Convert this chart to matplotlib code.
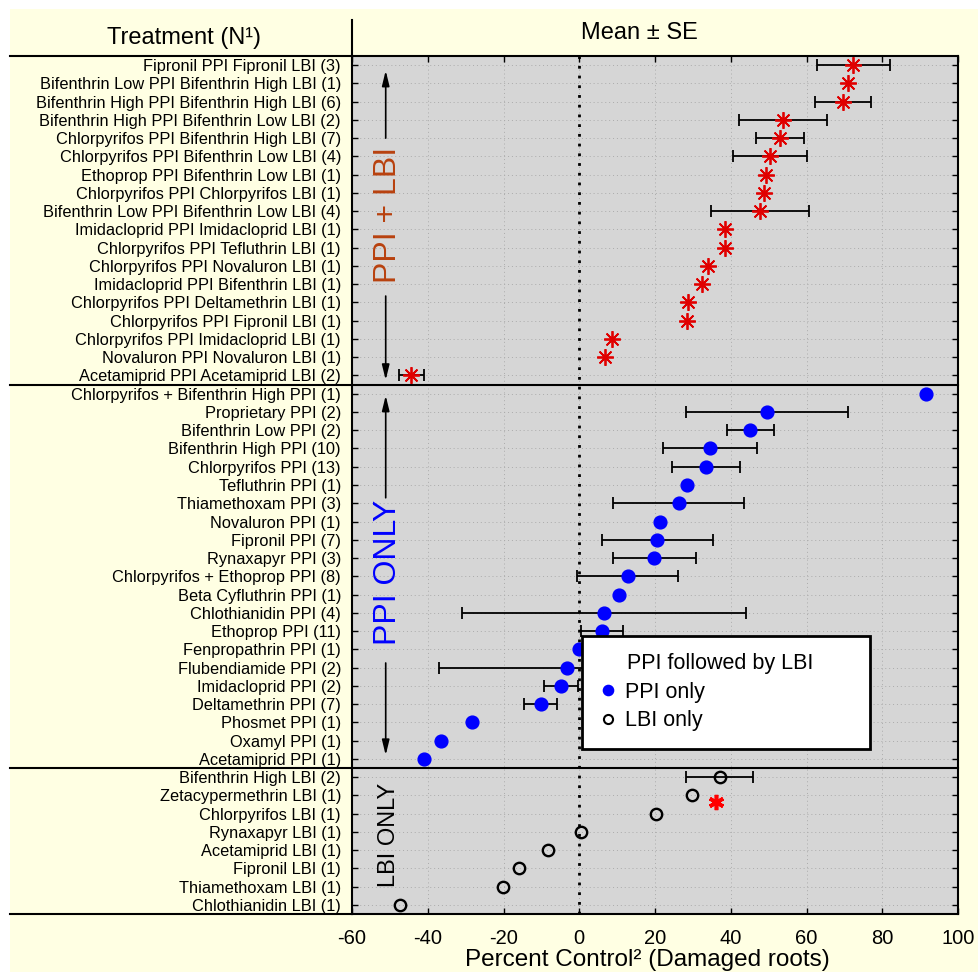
import matplotlib
matplotlib.use('Agg')
import matplotlib.pyplot as plt
import numpy as np
from matplotlib.lines import Line2D
from matplotlib.patches import Rectangle
import matplotlib.transforms as mtrans

plt.rcParams['font.family'] = ['Liberation Sans', 'DejaVu Sans']

# ---------------- data ----------------
ppi_lbi_labels = [
    "Fipronil PPI Fipronil LBI (3)",
    "Bifenthrin Low PPI Bifenthrin High LBI (1)",
    "Bifenthrin High PPI Bifenthrin High LBI (6)",
    "Bifenthrin High PPI Bifenthrin Low LBI (2)",
    "Chlorpyrifos PPI Bifenthrin High LBI (7)",
    "Chlorpyrifos PPI Bifenthrin Low LBI (4)",
    "Ethoprop PPI Bifenthrin Low LBI (1)",
    "Chlorpyrifos PPI Chlorpyrifos LBI (1)",
    "Bifenthrin Low PPI Bifenthrin Low LBI (4)",
    "Imidacloprid PPI Imidacloprid LBI (1)",
    "Chlorpyrifos PPI Tefluthrin LBI (1)",
    "Chlorpyrifos PPI Novaluron LBI (1)",
    "Imidacloprid PPI Bifenthrin LBI (1)",
    "Chlorpyrifos PPI Deltamethrin LBI (1)",
    "Chlorpyrifos PPI Fipronil LBI (1)",
    "Chlorpyrifos PPI Imidacloprid LBI (1)",
    "Novaluron PPI Novaluron LBI (1)",
    "Acetamiprid PPI Acetamiprid LBI (2)",
]
ppi_lbi_mean = [72.4, 70.9, 69.6, 53.8, 53.0, 50.4, 49.3, 48.8, 47.8, 38.4,
                38.4, 34.1, 32.3, 28.7, 28.4, 8.6, 6.8, -44.3]
ppi_lbi_se = [9.65, np.nan, 7.3, 11.5, 6.25, 9.85, np.nan, np.nan, 12.95, np.nan,
              np.nan, np.nan, np.nan, np.nan, np.nan, np.nan, np.nan, 3.35]

ppi_only_labels = [
    "Chlorpyrifos + Bifenthrin High PPI (1)",
    "Proprietary PPI (2)",
    "Bifenthrin Low PPI (2)",
    "Bifenthrin High PPI (10)",
    "Chlorpyrifos PPI (13)",
    "Tefluthrin PPI (1)",
    "Thiamethoxam PPI (3)",
    "Novaluron PPI (1)",
    "Fipronil PPI (7)",
    "Rynaxapyr PPI (3)",
    "Chlorpyrifos + Ethoprop PPI (8)",
    "Beta Cyfluthrin PPI (1)",
    "Chlothianidin PPI (4)",
    "Ethoprop PPI (11)",
    "Fenpropathrin PPI (1)",
    "Flubendiamide PPI (2)",
    "Imidacloprid PPI (2)",
    "Deltamethrin PPI (7)",
    "Phosmet PPI (1)",
    "Oxamyl PPI (1)",
    "Acetamiprid PPI (1)",
]
ppi_only_mean = [91.5, 49.5, 45.2, 34.55, 33.45, 28.4, 26.25, 21.3, 20.65, 19.85,
                 12.8, 10.4, 6.5, 6.0, -0.1, -3.3, -4.8, -10.2, -28.4, -36.6, -41.1]
ppi_only_se = [np.nan, 21.4, 6.1, 12.35, 9.05, np.nan, 17.25, np.nan, 14.75, 10.95,
               13.3, np.nan, 37.5, 5.6, np.nan, 33.8, 4.6, 4.3, np.nan, np.nan, np.nan]

lbi_only_labels = [
    "Bifenthrin High LBI (2)",
    "Zetacypermethrin LBI (1)",
    "Chlorpyrifos LBI (1)",
    "Rynaxapyr LBI (1)",
    "Acetamiprid LBI (1)",
    "Fipronil LBI (1)",
    "Thiamethoxam LBI (1)",
    "Chlothianidin LBI (1)",
]
lbi_only_mean = [37.05, 29.7, 20.2, 0.4, -8.3, -15.9, -20.1, -47.3]
lbi_only_se = [8.95, np.nan, np.nan, np.nan, np.nan, np.nan, np.nan, np.nan]

x_ticks = [-60, -40, -20, 0, 20, 40, 60, 80, 100]
signif_x = 36.2
signif_row = "Zetacypermethrin LBI (1)"

# ---------------- figure ----------------
W, H = 979, 974
fig = plt.figure(figsize=(W / 100, H / 100), dpi=100, facecolor='white')


def fx(px):
    return px / W


def fy(py):
    return 1 - py / H


fig.add_artist(Rectangle((fx(10), fy(972)), fx(979) - fx(10), fy(9) - fy(972),
                         transform=fig.transFigure, facecolor='#FFFFE3',
                         edgecolor='none', zorder=-10))

ax = fig.add_axes([fx(352), fy(914), (958 - 352) / W, (914 - 56) / H])
ax.set_facecolor('#D6D6D6')

all_labels = ppi_lbi_labels + ppi_only_labels + lbi_only_labels
n1, n2, n3 = len(ppi_lbi_labels), len(ppi_only_labels), len(lbi_only_labels)
y1 = np.arange(n1)
y2 = n1 + np.arange(n2)
y3 = n1 + n2 + np.arange(n3)

ax.set_axisbelow(True)
ax.grid(True, color='#ababab', linestyle=(0, (1, 3)), linewidth=0.7)
ax.axvline(0, color='black', linestyle=(0, (1, 2.5)), linewidth=2, zorder=2)


def draw_errors(mean, se, y):
    mean = np.asarray(mean, float)
    se = np.asarray(se, float)
    m = ~np.isnan(se)
    ax.errorbar(mean[m], y[m], xerr=se[m], fmt='none', ecolor='black',
                elinewidth=1.3, capsize=4, capthick=1.3, zorder=3)


draw_errors(ppi_lbi_mean, ppi_lbi_se, y1)
draw_errors(ppi_only_mean, ppi_only_se, y2)
draw_errors(lbi_only_mean, lbi_only_se, y3)

ax.plot(ppi_lbi_mean, y1, linestyle='none', marker=(8, 2, 0), markersize=12,
        markeredgewidth=1.3, color='#E00000', zorder=4)
ax.plot(ppi_only_mean, y2, linestyle='none', marker='o', markersize=9.2,
        color='#0000FF', zorder=4)
ax.plot(lbi_only_mean, y3, linestyle='none', marker='o', markersize=8.2,
        markerfacecolor='none', markeredgecolor='black', markeredgewidth=1.7, zorder=4)

# significance asterisk
sig_y = all_labels.index(signif_row) + 0.35
ax.plot([signif_x], [sig_y], linestyle='none', marker=(6, 2, 0), markersize=11,
        markeredgewidth=2.6, color='#FF0000', zorder=4)

ax.set_xlim(-60, 100)
ax.set_ylim(n1 + n2 + n3 - 0.5, -0.5)
ax.set_xticks(x_ticks)
ax.set_xticklabels([str(v) for v in x_ticks], fontsize=14.5)
ax.set_yticks(np.arange(n1 + n2 + n3))
ax.set_yticklabels(all_labels, fontsize=11.8)
ax.tick_params(axis='both', direction='in', top=True, right=True, length=4,
               width=1, color='black')
ax.tick_params(axis='y', pad=8)
ax.tick_params(axis='x', pad=11)
for s in ax.spines.values():
    s.set_linewidth(1.5)

ax.set_xlabel('Percent Control² (Damaged roots)', fontsize=17.5)
ax.xaxis.set_label_coords(0.488, -(966 - 914) / 858)
ax.xaxis.label.set_va('baseline')

# section labels + arrows
sec_x = -50.5
arr_x = -51.1
ax.text(sec_x, 8.2, 'PPI + LBI', rotation=90, color='#B8410E', fontsize=23,
        ha='center', va='center')
ax.text(sec_x, 27.76, 'PPI ONLY', rotation=90, color='#0000FF', fontsize=23,
        ha='center', va='center')
ax.text(sec_x + 0.3, 42.17, 'LBI ONLY', rotation=90, color='black', fontsize=17,
        ha='center', va='center')

arrow_style = dict(arrowstyle='-|>,head_length=0.9,head_width=0.22', color='black',
                   lw=1.2, shrinkA=0, shrinkB=0)
for (a, b) in [(4.0, 0.3), (12.65, 17.25), (23.7, 18.1), (32.75, 37.8)]:
    ax.annotate('', xy=(arr_x, b), xytext=(arr_x, a), arrowprops=arrow_style)

# legend
h1 = Line2D([], [], linestyle='none', marker='o', color='#0000FF', markersize=9.2)
h2 = Line2D([], [], linestyle='none', marker='o', markerfacecolor='none',
            markeredgecolor='black', markersize=8.2, markeredgewidth=1.5)
leg = ax.legend([h1, h2], ['PPI only', 'LBI only'], title='PPI followed by LBI',
                loc='upper left', bbox_to_anchor=(0.3795, 0.183, 0.475, 0.141),
                mode='expand', borderaxespad=0, fontsize=15.5, title_fontsize=15.5,
                markerscale=0.8, handlelength=0.8, handletextpad=0.4,
                borderpad=0.8, labelspacing=0.35, fancybox=False, framealpha=1,
                edgecolor='black', facecolor='white', alignment='left')
leg.get_frame().set_linewidth(2)
leg.set_zorder(10)
leg.get_title().set_position((1.3 * 15.5 * 100 / 72, 0))

# section separator lines across table + plot
trans = mtrans.blended_transform_factory(fig.transFigure, ax.transData)
for yy in [n1 - 0.5, n1 + n2 - 0.5]:
    fig.add_artist(Line2D([fx(10), fx(958)], [yy, yy], transform=trans,
                          color='black', linewidth=1.5))

# header / footer table lines
fig.add_artist(Line2D([fx(10), fx(352)], [fy(56), fy(56)], transform=fig.transFigure,
                      color='black', linewidth=1.5))
fig.add_artist(Line2D([fx(10), fx(352)], [fy(914), fy(914)], transform=fig.transFigure,
                      color='black', linewidth=1.5))
fig.add_artist(Line2D([fx(352), fx(352)], [fy(20), fy(56)], transform=fig.transFigure,
                      color='black', linewidth=1.5))

fig.text(fx(184), fy(38), 'Treatment (N¹)', ha='center', va='center', fontsize=17)
fig.text(fx(639), fy(33), 'Mean ± SE', ha='center', va='center', fontsize=17)

fig.savefig('out.png', dpi=100, facecolor=fig.get_facecolor())
